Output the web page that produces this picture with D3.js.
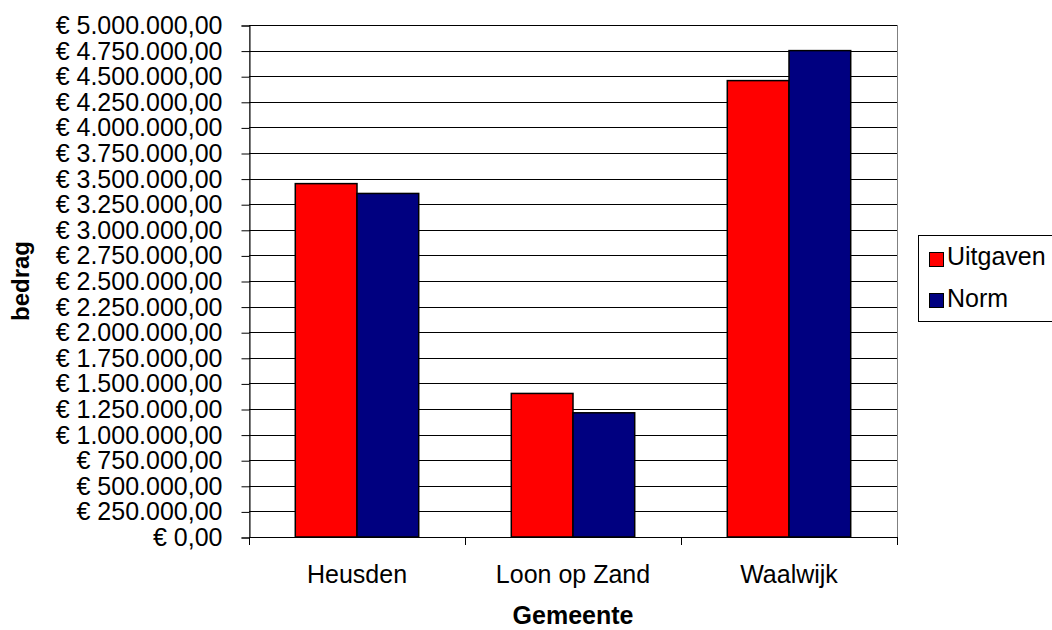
<!DOCTYPE html>
<html>
<head>
<meta charset="utf-8">
<script src="https://cdn.jsdelivr.net/npm/d3@7"></script>
<style>
  body { margin: 0; background: #fff; }
  svg { font-family: Arial, "Liberation Sans", sans-serif; }
</style>
</head>
<body>
<svg width="1052" height="630"></svg>
<script>
// data
const gemeenten = ['Heusden', 'Loon op Zand', 'Waalwijk'];
const series = ['Uitgaven', 'Norm'];
const uitgaven = [3451000, 1402000, 4457000];
const norm = [3355000, 1213000, 4750000];
const yTicks = d3.range(0, 5000001, 250000);
const colors = ['#ff0000', '#000080'];

const svg = d3.select('svg');
const plot = { left: 249, right: 897, top: 25, bottom: 537 };

const nl = d3.formatLocale({ decimal: ',', thousands: '.', grouping: [3], currency: ['€ ', ''] });
const euro = nl.format('$,.2f');

const x = d3.scaleBand().domain(gemeenten).range([plot.left, plot.right]);
const xs = d3.scaleBand().domain(series).range([0, x.bandwidth()]).paddingOuter(0.75);
const y = d3.scaleLinear().domain([0, 5000000]).range([plot.bottom, plot.top]);

// plot area border (grey)
svg.append('rect')
  .attr('x', plot.left + 0.5).attr('y', plot.top + 0.5)
  .attr('width', plot.right - plot.left).attr('height', plot.bottom - plot.top)
  .attr('fill', '#fff').attr('stroke', '#808080');

// gridlines
svg.append('g').selectAll('line').data(yTicks).join('line')
  .attr('x1', plot.left).attr('x2', plot.right)
  .attr('y1', d => Math.round(y(d)) + 0.5).attr('y2', d => Math.round(y(d)) + 0.5)
  .attr('stroke', '#000');

// bars
const rows = gemeenten.map((g, i) => ({ g, vals: [uitgaven[i], norm[i]] }));
svg.append('g').selectAll('g').data(rows).join('g')
  .attr('transform', d => `translate(${x(d.g)},0)`)
  .selectAll('rect').data(d => d.vals.map((v, j) => ({ s: series[j], v, j })))
  .join('rect')
  .attr('x', d => xs(d.s))
  .attr('y', d => y(d.v))
  .attr('width', xs.bandwidth())
  .attr('height', d => y(0) - y(d.v))
  .attr('fill', d => colors[d.j])
  .attr('stroke', '#000').attr('stroke-width', 1.5);

// y axis
const yAxis = svg.append('g')
  .attr('transform', `translate(${plot.left + 0.5},0.5)`)
  .call(d3.axisLeft(y).tickValues(yTicks).tickFormat(euro).tickSize(8).tickPadding(19));
yAxis.select('.domain').attr('stroke', '#000');
yAxis.selectAll('.tick line').attr('stroke', '#000');
yAxis.selectAll('text').attr('font-size', 25).attr('font-family', 'Arial, "Liberation Sans", sans-serif').attr('fill', '#000');

// x axis line and boundary ticks
svg.append('line')
  .attr('x1', plot.left).attr('x2', plot.right + 1)
  .attr('y1', plot.bottom + 0.5).attr('y2', plot.bottom + 0.5)
  .attr('stroke', '#000');
const bounds = gemeenten.map(g => x(g)).concat([plot.right]);
svg.append('g').selectAll('line').data(bounds).join('line')
  .attr('x1', d => Math.round(d) + 0.5).attr('x2', d => Math.round(d) + 0.5)
  .attr('y1', plot.bottom).attr('y2', plot.bottom + 8)
  .attr('stroke', '#000');

const xAxis = svg.append('g')
  .attr('transform', `translate(0,${plot.bottom})`)
  .call(d3.axisBottom(x).tickSize(0).tickPadding(28));
xAxis.select('.domain').remove();
xAxis.selectAll('text').attr('font-size', 25).attr('font-family', 'Arial, "Liberation Sans", sans-serif').attr('fill', '#000');

// axis titles
svg.append('text')
  .attr('x', (plot.left + plot.right) / 2).attr('y', 624)
  .attr('text-anchor', 'middle').attr('font-size', 25).attr('font-weight', 'bold')
  .text('Gemeente');
svg.append('text')
  .attr('transform', `translate(29,${(plot.top + plot.bottom) / 2}) rotate(-90)`)
  .attr('text-anchor', 'middle').attr('font-size', 24).attr('font-weight', 'bold')
  .text('bedrag');

// legend
const lg = svg.append('g').attr('transform', 'translate(918,235)');
lg.append('rect').attr('x', 0.5).attr('y', 0.5).attr('width', 150).attr('height', 86)
  .attr('fill', '#fff').attr('stroke', '#000');
series.forEach((s, i) => {
  lg.append('rect').attr('x', 11.5).attr('y', 17.5 + i * 41).attr('width', 14).attr('height', 14)
    .attr('fill', colors[i]).attr('stroke', '#000');
  lg.append('text').attr('x', 29).attr('y', 30 + i * 41.5)
    .attr('font-size', 25).text(s);
});
</script>
</body>
</html>
